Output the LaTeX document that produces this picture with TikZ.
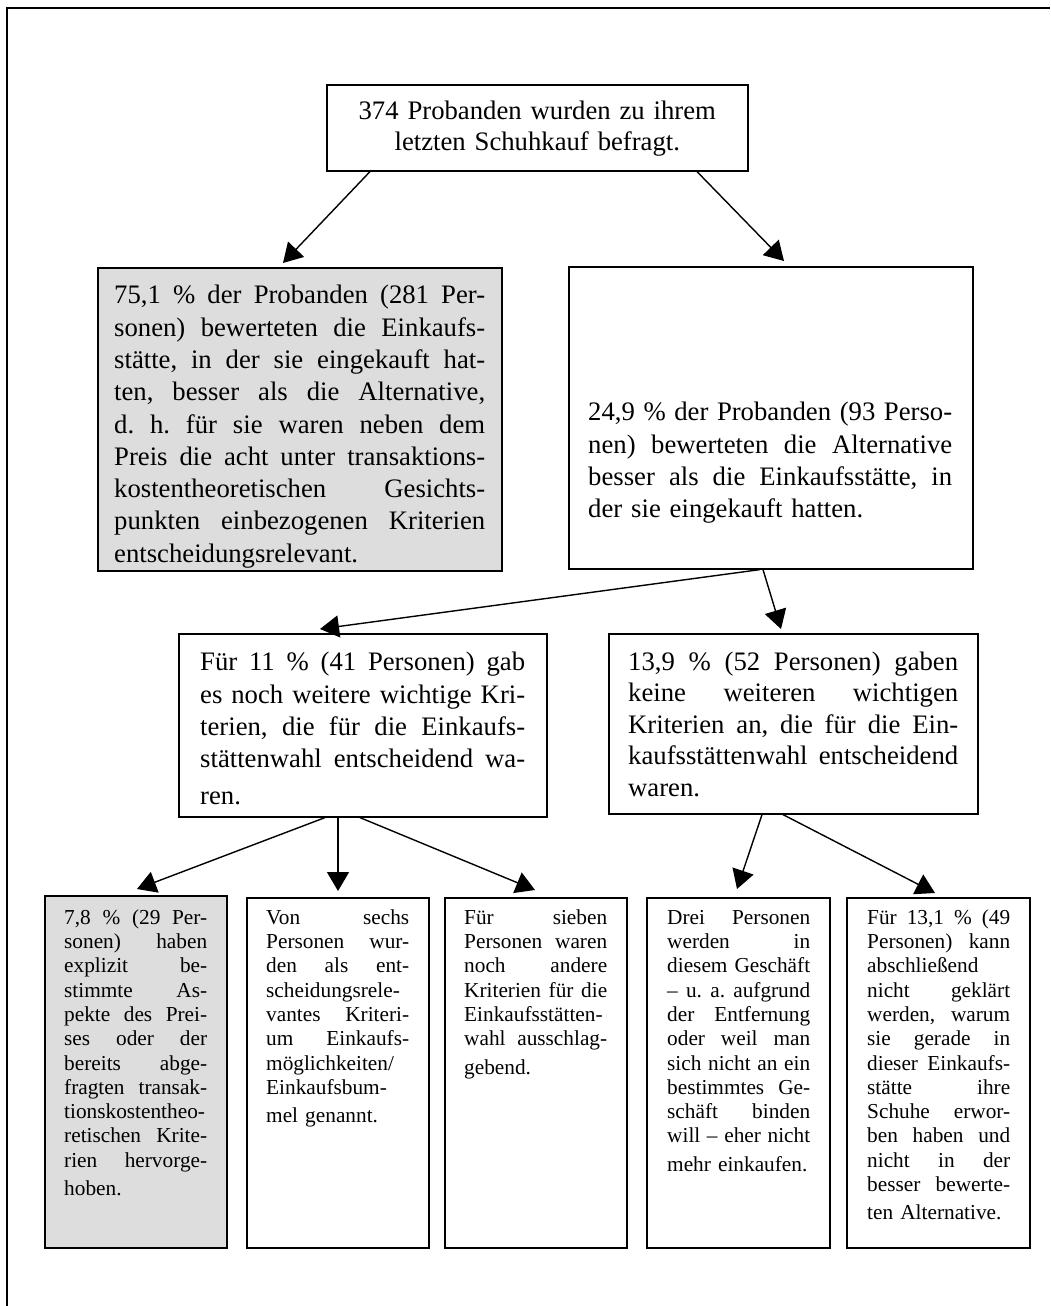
\documentclass[tikz,border=0pt]{standalone}
\usepackage{fontspec}
\setmainfont{Liberation Serif}
\usetikzlibrary{arrows.meta}
\definecolor{boxgray}{RGB}{221,221,221}
\newcommand\jw{100pt}
\newcommand\jline[1]{\leavevmode\hbox to\jw{\spaceskip=0.25em plus 1fil minus 0.08em\relax #1}}
\newcommand\toptxtfont{\fontsize{26.7}{31}\selectfont\frenchspacing}
\newcommand\bigtxtfont{\fontsize{26.7}{32.3}\selectfont\frenchspacing}
\newcommand\midtxtfont{\fontsize{26.7}{31.5}\selectfont\frenchspacing}
\newcommand\smalltxtfont{\fontsize{21.3}{24.3}\selectfont\frenchspacing}
\begin{document}
\begin{tikzpicture}[x=1pt,y=-1pt,
  box/.style={draw=black, line width=1.6pt, inner sep=0pt, anchor=north west},
  txt/.style={inner sep=0pt, anchor=north west, align=left},
  maintxt/.style={txt, font=\bigtxtfont},
  smalltxt/.style={txt, font=\smalltxtfont, text width=143pt},
  arr/.style={line width=1.4pt, -{Triangle[length=19pt,width=22pt]}}]
\useasboundingbox (0,0) rectangle (1050,1306);
\draw[line width=2pt] (7,1306) -- (7,8) -- (1050,8);

% boxes
\node[box, minimum width=421pt, minimum height=86pt] (top) at (326,84) {};
\node[box, fill=boxgray, minimum width=404pt, minimum height=303pt] (L1) at (97,267) {};
\node[box, minimum width=404pt, minimum height=302pt] (R1) at (568,266) {};
\node[box, minimum width=368pt, minimum height=183pt] (M1) at (178,633) {};
\node[box, minimum width=369pt, minimum height=180pt] (M2) at (608,633) {};
\node[box, fill=boxgray, minimum width=182pt, minimum height=352pt] (B1) at (44,895) {};
\node[box, minimum width=182pt, minimum height=350pt] (B2) at (246,897) {};
\node[box, minimum width=182pt, minimum height=350pt] (B3) at (444,897) {};
\node[box, minimum width=183pt, minimum height=350pt] (B4) at (646,897) {};
\node[box, minimum width=183pt, minimum height=350pt] (B5) at (846,897) {};

% texts
\node[txt, font=\toptxtfont, anchor=north, align=center, text width=410pt] (toptext) at ([yshift=-14pt]top.north)
  {\strut 374 Probanden wurden zu ihrem\\ letzten Schuhkauf befragt.};

\node[maintxt, text width=371pt] (L1text) at ([xshift=17pt,yshift=-14pt]L1.north west) {%
\renewcommand\jw{371pt}%
\strut\jline{75,1 \% der Probanden (281 Per-}\\
\jline{sonen) bewerteten die Einkaufs-}\\
\jline{stätte, in der sie eingekauft hat-}\\
\jline{ten, besser als die Alternative,}\\
\jline{d. h. für sie waren neben dem}\\
\jline{Preis die acht unter transaktions-}\\
\jline{kostentheoretischen Gesichts-}\\
\jline{punkten einbezogenen Kriterien}\\
entscheidungsrelevant.};

\node[maintxt, text width=364pt] (R1text) at ([xshift=20pt,yshift=-132pt]R1.north west) {%
\renewcommand\jw{364pt}%
\strut\jline{24,9 \% der Probanden (93 Perso-}\\
\jline{nen) bewerteten die Alternative}\\
\jline{besser als die Einkaufsstätte, in}\\
der sie eingekauft hatten.};

\node[maintxt, text width=325pt] (M1text) at ([xshift=22pt,yshift=-15pt]M1.north west) {%
\renewcommand\jw{325pt}%
\strut\jline{Für 11 \% (41 Personen) gab}\\
\jline{es noch weitere wichtige Kri-}\\
\jline{terien, die für die Einkaufs-}\\
\jline{stättenwahl entscheidend wa-}\\[4pt]
ren.};

\node[txt, font=\midtxtfont, text width=330pt] (M2text) at ([xshift=20pt,yshift=-15pt]M2.north west) {%
\renewcommand\jw{330pt}%
\strut\jline{13,9 \% (52 Personen) gaben}\\
\jline{keine weiteren wichtigen}\\
\jline{Kriterien an, die für die Ein-}\\
\jline{kaufsstättenwahl entscheidend}\\
waren.};

\node[smalltxt] (B1text) at ([xshift=20pt,yshift=-12pt]B1.north west) {%
\renewcommand\jw{143pt}%
\strut\jline{7,8 \% (29 Per-}\\
\jline{sonen) haben}\\
\jline{explizit be-}\\
\jline{stimmte As-}\\
\jline{pekte des Prei-}\\
\jline{ses oder der}\\
\jline{bereits abge-}\\
\jline{fragten transak-}\\
\jline{tionskostentheo-}\\
\jline{retischen Krite-}\\
\jline{rien hervorge-}\\[4pt]
hoben.};

\node[smalltxt] (B2text) at ([xshift=20pt,yshift=-10pt]B2.north west) {%
\renewcommand\jw{143pt}%
\strut\jline{Von sechs}\\
\jline{Personen wur-}\\
\jline{den als ent-}\\
\jline{scheidungsrele-}\\
\jline{vantes Kriteri-}\\
\jline{um Einkaufs-}\\
möglichkeiten/\\
Einkaufsbum-\\[4pt]
mel genannt.};

\node[smalltxt] (B3text) at ([xshift=20pt,yshift=-10pt]B3.north west) {%
\renewcommand\jw{143pt}%
\strut\jline{Für sieben}\\
\jline{Personen waren}\\
\jline{noch andere}\\
\jline{Kriterien für die}\\
Einkaufsstätten-\\
\jline{wahl ausschlag-}\\[4pt]
gebend.};

\node[smalltxt] (B4text) at ([xshift=21pt,yshift=-10pt]B4.north west) {%
\renewcommand\jw{143pt}%
\strut\jline{Drei Personen}\\
\jline{werden in}\\
\jline{diesem Geschäft}\\
\jline{– u. a. aufgrund}\\
\jline{der Entfernung}\\
\jline{oder weil man}\\
\jline{sich nicht an ein}\\
\jline{bestimmtes Ge-}\\
\jline{schäft binden}\\
\jline{will – eher nicht}\\[4pt]
mehr einkaufen.};

\node[smalltxt] (B5text) at ([xshift=21pt,yshift=-10pt]B5.north west) {%
\renewcommand\jw{143pt}%
\strut\jline{Für 13,1 \% (49}\\
\jline{Personen) kann}\\
abschließend\\
\jline{nicht geklärt}\\
\jline{werden, warum}\\
\jline{sie gerade in}\\
\jline{dieser Einkaufs-}\\
\jline{stätte ihre}\\
\jline{Schuhe erwor-}\\
\jline{ben haben und}\\
\jline{nicht in der}\\
\jline{besser bewerte-}\\[4pt]
ten Alternative.};

% connectors
\draw[arr] ([xshift=44pt]top.south west) -- ([xshift=186pt,yshift=4pt]L1.north west);
\draw[arr] ([xshift=371pt]top.south west) -- ([xshift=216pt,yshift=5pt]R1.north west);
\draw[arr] ([xshift=192pt]R1.south west) -- ([xshift=142pt,yshift=4pt]M1.north west);
\draw[arr] ([xshift=195pt]R1.south west) -- ([xshift=173pt,yshift=4pt]M2.north west);
\draw[arr] ([xshift=147pt]M1.south west) -- ([xshift=93pt,yshift=6pt]B1.north west);
\draw[arr] ([xshift=160pt]M1.south west) -- ([xshift=92pt,yshift=6pt]B2.north west);
\draw[arr] ([xshift=182pt]M1.south west) -- ([xshift=91pt,yshift=7pt]B3.north west);
\draw[arr] ([xshift=154pt]M2.south west) -- ([xshift=91pt,yshift=8pt]B4.north west);
\draw[arr] ([xshift=175pt]M2.south west) -- ([xshift=89pt,yshift=4pt]B5.north west);
\end{tikzpicture}
\end{document}
